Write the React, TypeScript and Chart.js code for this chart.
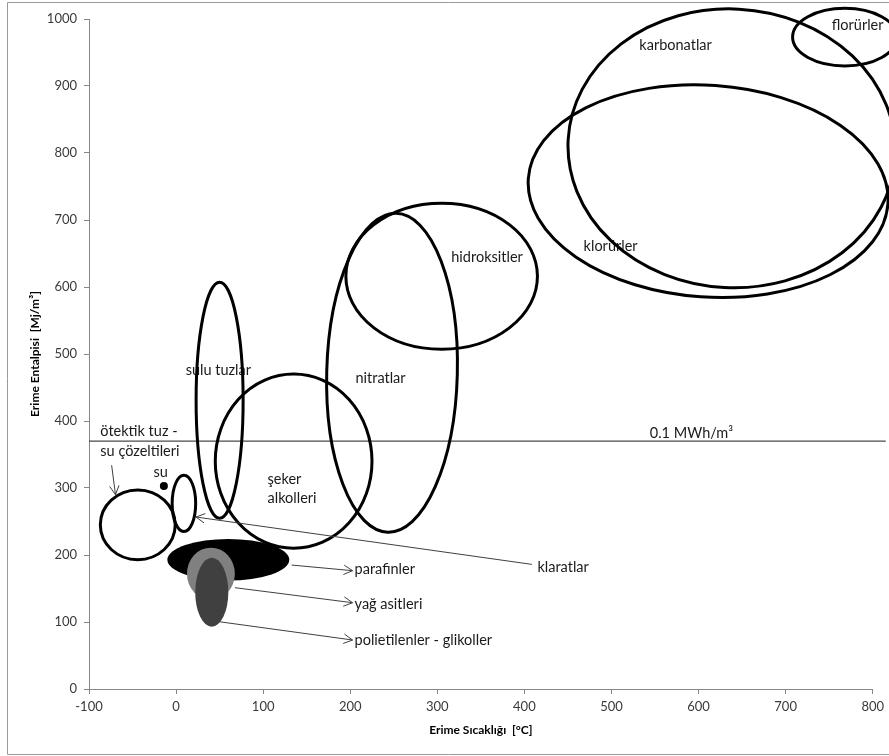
import React, { useEffect, useRef } from "react";
import { Chart, registerables } from "chart.js";

Chart.register(...registerables);

// Phase-change material groups: melting temperature range (°C) and melting enthalpy range (MJ/m³),
// each given as the centre of the range and its half-width.
const groupNames = [
  "florürler",
  "karbonatlar",
  "klorürler",
  "hidroksitler",
  "nitratlar",
  "şeker alkolleri",
  "sulu tuzlar",
  "ötektik tuz - su çözeltileri",
  "klaratlar",
  "su",
  "parafinler",
  "yağ asitleri",
  "polietilenler - glikoller",
];
const tempCenter = [768, 638, 611, 305, 248, 135, 50, -44, 9, -14, 60, 40, 41];
const tempHalfRange = [60, 188, 207, 110, 75, 90, 27, 43, 13.5, 4.6, 70, 27.5, 19];
const enthalpyCenter = [973, 807, 743, 616, 472, 340, 431, 245, 277, 303, 193, 172, 144.5];
const enthalpyHalfRange = [43, 208, 158, 109, 238, 130, 176, 52, 42, 6, 31, 39, 51.5];

// Axis ticks
const xTickValues = [-100, 0, 100, 200, 300, 400, 500, 600, 700, 800];
const xTickLabels = ["-100", "0", "100", "200", "300", "400", "500", "600", "700", "800"];
const yTickValues = [0, 100, 200, 300, 400, 500, 600, 700, 800, 900, 1000];
const yTickLabels = ["0", "100", "200", "300", "400", "500", "600", "700", "800", "900", "1000"];

// 0.1 MWh/m³ reference level
const thresholdEnthalpy = 370;
const thresholdLabel = "0.1 MWh/m³";

// Drawing style of each group region
const groupStyle: Record<string, { fill?: string; tilt?: number }> = {
  "karbonatlar": { tilt: 3 },
  "klorürler": { tilt: 4 },
  "nitratlar": { tilt: 1.5 },
  "su": { fill: "#000000" },
  "parafinler": { fill: "#000000" },
  "yağ asitleri": { fill: "#808080" },
  "polietilenler - glikoller": { fill: "#404040" },
};

// Text annotations, anchored at their left edge / vertical middle in data units
const textNotes = [
  { text: "florürler", x: 753, y: 991 },
  { text: "karbonatlar", x: 532, y: 960 },
  { text: "klorürler", x: 468, y: 660 },
  { text: "hidroksitler", x: 316, y: 645 },
  { text: "nitratlar", x: 206, y: 463 },
  { text: "sulu tuzlar", x: 11, y: 475 },
  { text: "şeker", x: 105, y: 313 },
  { text: "alkolleri", x: 105, y: 285 },
  { text: "ötektik tuz -", x: -87, y: 384 },
  { text: "su çözeltileri", x: -87, y: 354 },
  { text: "su", x: -26, y: 324 },
  { text: thresholdLabel, x: 544, y: 382 },
  { text: "parafinler", x: 205, y: 179 },
  { text: "yağ asitleri", x: 205, y: 127 },
  { text: "polietilenler - glikoller", x: 205, y: 72 },
  { text: "klaratlar", x: 415, y: 181 },
];

// Leader arrows, tail -> head in data units
const leaderArrows = [
  { from: [-74, 334], to: [-69.6, 290] },
  { from: [408.6, 186], to: [22.8, 256.7] },
  { from: [132.7, 185], to: [202.7, 176.6] },
  { from: [67.6, 151.2], to: [202.7, 128.8] },
  { from: [49.6, 100.4], to: [202.7, 73.1] },
];

const FONT = "Lato, 'Open Sans', sans-serif";

const overlayPlugin = {
  id: "pcmOverlay",
  beforeDraw(chart: any) {
    const { ctx, width, height } = chart;
    ctx.save();
    ctx.fillStyle = "#ffffff";
    ctx.fillRect(0, 0, width, height);
    ctx.strokeStyle = "#9a9a9a";
    ctx.lineWidth = 1;
    ctx.beginPath();
    ctx.moveTo(width, 2.5);
    ctx.lineTo(7.5, 2.5);
    ctx.lineTo(7.5, 754.5);
    ctx.lineTo(width, 754.5);
    ctx.stroke();
    ctx.restore();
  },
  afterDatasetsDraw(chart: any) {
    const { ctx } = chart;
    const xs = chart.scales.x;
    const ys = chart.scales.y;
    const px = (v: number) => xs.getPixelForValue(v);
    const py = (v: number) => ys.getPixelForValue(v);
    ctx.save();

    // annotation texts
    ctx.font = `14.5px ${FONT}`;
    ctx.fillStyle = "#1a1a1a";
    ctx.textAlign = "left";
    ctx.textBaseline = "middle";
    for (const t of textNotes) ctx.fillText(t.text, px(t.x), py(t.y));

    // reference level line
    ctx.strokeStyle = "#4a4a4a";
    ctx.lineWidth = 1.3;
    ctx.beginPath();
    ctx.moveTo(px(-100), py(thresholdEnthalpy));
    ctx.lineTo(px(815), py(thresholdEnthalpy));
    ctx.stroke();

    // group regions
    groupNames.forEach((name, i) => {
      const st = groupStyle[name] || {};
      const cx = px(tempCenter[i]);
      const cy = py(enthalpyCenter[i]);
      const rx = Math.abs(px(tempCenter[i] + tempHalfRange[i]) - cx);
      const ry = Math.abs(py(enthalpyCenter[i] + enthalpyHalfRange[i]) - cy);
      ctx.beginPath();
      ctx.ellipse(cx, cy, rx, ry, ((st.tilt || 0) * Math.PI) / 180, 0, Math.PI * 2);
      if (st.fill) {
        ctx.fillStyle = st.fill;
        ctx.fill();
      } else {
        ctx.strokeStyle = "#000000";
        ctx.lineWidth = 3;
        ctx.stroke();
      }
    });

    // leader arrows
    ctx.strokeStyle = "#404040";
    ctx.lineWidth = 1;
    for (const a of leaderArrows) {
      const x0 = px(a.from[0]);
      const y0 = py(a.from[1]);
      const x1 = px(a.to[0]);
      const y1 = py(a.to[1]);
      const ang = Math.atan2(y1 - y0, x1 - x0);
      const len = 10;
      const spread = (28 * Math.PI) / 180;
      ctx.beginPath();
      ctx.moveTo(x0, y0);
      ctx.lineTo(x1, y1);
      ctx.moveTo(x1 - len * Math.cos(ang - spread), y1 - len * Math.sin(ang - spread));
      ctx.lineTo(x1, y1);
      ctx.lineTo(x1 - len * Math.cos(ang + spread), y1 - len * Math.sin(ang + spread));
      ctx.stroke();
    }
    ctx.restore();
  },
};

export default function App() {
  const canvasRef = useRef<HTMLCanvasElement | null>(null);

  useEffect(() => {
    const canvas = canvasRef.current;
    if (!canvas) return;
    const axisColor = "#868686";
    const chart = new Chart(canvas, {
      type: "scatter",
      data: {
        datasets: [
          {
            label: "Erime aralıkları",
            data: groupNames.map((_, i) => ({ x: tempCenter[i], y: enthalpyCenter[i] })),
            pointRadius: 0,
            pointHoverRadius: 0,
            showLine: false,
          },
        ],
      },
      options: {
        responsive: false,
        devicePixelRatio: 1,
        animation: false,
        events: [],
        layout: { padding: { left: 0, right: 16, top: 19, bottom: 0 } },
        plugins: {
          legend: { display: false },
          tooltip: { enabled: false },
        },
        scales: {
          x: {
            type: "linear",
            min: -100,
            max: 800,
            afterBuildTicks: (s: any) => {
              s.ticks = xTickValues.map((v) => ({ value: v }));
            },
            afterFit: (s: any) => {
              s.height = 67;
            },
            ticks: {
              callback: (_v: any, i: number) => xTickLabels[i],
              font: { family: FONT, size: 13 },
              color: "#3a3a3a",
              padding: 5,
              maxRotation: 0,
              autoSkip: false,
            },
            grid: { drawOnChartArea: false, drawTicks: true, tickLength: 5, color: axisColor },
            border: { color: axisColor, width: 1 },
            title: {
              display: true,
              text: "Erime Sıcaklığı  [°C]",
              font: { family: FONT, size: 12, weight: "bold" },
              color: "#000000",
              padding: { top: 0, bottom: 19 },
            },
          },
          y: {
            type: "linear",
            min: 0,
            max: 1000,
            afterBuildTicks: (s: any) => {
              s.ticks = yTickValues.map((v) => ({ value: v }));
            },
            afterFit: (s: any) => {
              s.width = 89;
            },
            ticks: {
              callback: (_v: any, i: number) => yTickLabels[i],
              font: { family: FONT, size: 13 },
              color: "#3a3a3a",
              padding: 7,
              autoSkip: false,
            },
            grid: { drawOnChartArea: false, drawTicks: true, tickLength: 5, color: axisColor },
            border: { color: axisColor, width: 1 },
            title: {
              display: true,
              text: "Erime Entalpisi  [Mj/m³]",
              font: { family: FONT, size: 12, weight: "bold" },
              color: "#000000",
              padding: { top: 28, bottom: 0 },
            },
          },
        },
      },
      plugins: [overlayPlugin],
    } as any);
    return () => chart.destroy();
  }, []);

  return (
    <div style={{ position: "absolute", left: 0, top: 0, width: 889, height: 756, background: "#fff" }}>
      <canvas ref={canvasRef} width={889} height={756} style={{ display: "block" }} />
    </div>
  );
}
